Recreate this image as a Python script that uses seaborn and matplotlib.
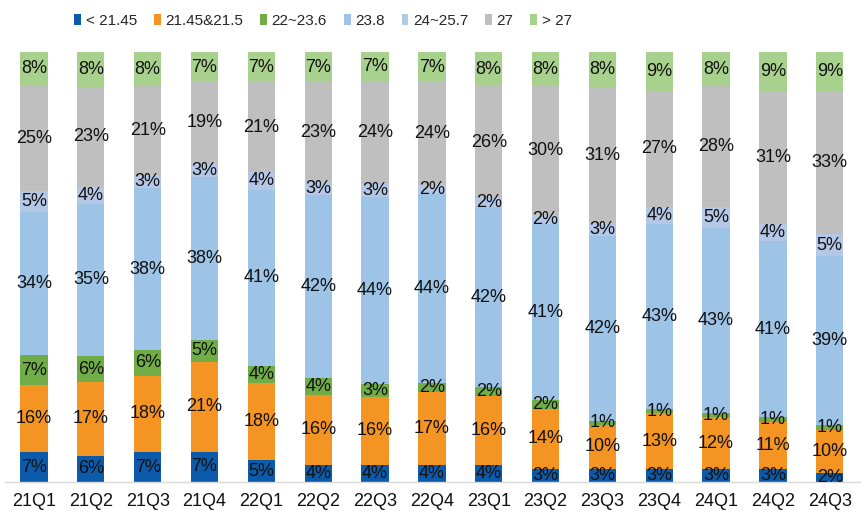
import numpy as np
import pandas as pd
import seaborn as sns
import matplotlib.pyplot as plt
from matplotlib.patches import Patch

sns.set_theme(style="white")
plt.rcParams["font.family"] = ["Liberation Sans", "DejaVu Sans"]

quarters = ["21Q1", "21Q2", "21Q3", "21Q4", "22Q1", "22Q2", "22Q3", "22Q4",
            "23Q1", "23Q2", "23Q3", "23Q4", "24Q1", "24Q2", "24Q3"]
series_names = ["< 21.45", "21.45&21.5", "22~23.6", "23.8", "24~25.7", "27", "> 27"]

lt_2145 = [7, 6, 7, 7, 5, 4, 4, 4, 4, 3, 3, 3, 3, 3, 2]
s_2145_215 = [16, 17, 18, 21, 18, 16, 16, 17, 16, 14, 10, 13, 12, 11, 10]
s_22_236 = [7, 6, 6, 5, 4, 4, 3, 2, 2, 2, 1, 1, 1, 1, 1]
s_238 = [34, 35, 38, 38, 41, 42, 44, 44, 42, 41, 42, 43, 43, 41, 39]
s_24_257 = [5, 4, 3, 3, 4, 3, 3, 2, 2, 2, 3, 4, 5, 4, 5]
s_27 = [25, 23, 21, 19, 21, 23, 24, 24, 26, 30, 31, 27, 28, 31, 33]
gt_27 = [8, 8, 8, 7, 7, 7, 7, 7, 8, 8, 8, 9, 8, 9, 9]

colors = ["#0B5BAA", "#F39423", "#70AD47", "#9DC3E6", "#B4C7E7", "#BFBFBF", "#A9D18E"]

vals = np.array([lt_2145, s_2145_215, s_22_236, s_238, s_24_257, s_27, gt_27], dtype=float)
share = vals / vals.sum(axis=0) * 100  # bars fill to 100%
cum = share.cumsum(axis=0)

fig = plt.figure(figsize=(8.67, 5.25), dpi=100)
ax = fig.add_axes([0.0058, 0.082, 0.986, 0.819])

# draw cumulative totals from the top layer down so each layer covers the one above
for i in range(len(series_names) - 1, -1, -1):
    df = pd.DataFrame({"quarter": quarters, "cum": cum[i]})
    sns.barplot(data=df, x="quarter", y="cum", color=colors[i], width=0.48,
                saturation=1, ax=ax, linewidth=0)

for i in range(len(series_names)):
    for j in range(len(quarters)):
        mid = cum[i, j] - share[i, j] / 2
        ax.text(j, mid, f"{int(vals[i, j])}%", ha="center", va="center",
                fontsize=13, color="#111111")

ax.set_ylim(0, 100)
ax.set_xlim(-0.51, 14.53)
ax.set_xlabel("")
ax.set_ylabel("")
ax.set_yticks([])
ax.tick_params(axis="x", labelsize=13, length=0, pad=8, colors="#111111")
for side in ["top", "right", "left"]:
    ax.spines[side].set_visible(False)
ax.spines["bottom"].set_color("#D9D9D9")
ax.spines["bottom"].set_linewidth(1)

handles = [Patch(facecolor=c, edgecolor="none") for c in colors]
fig.legend(handles, series_names, loc="upper left", bbox_to_anchor=(0.07, 1.0),
           ncol=7, frameon=False, handlelength=0.45, handleheight=0.8,
           handletextpad=0.3, columnspacing=1.1, fontsize=11)

fig.savefig("out.png", dpi=100)
